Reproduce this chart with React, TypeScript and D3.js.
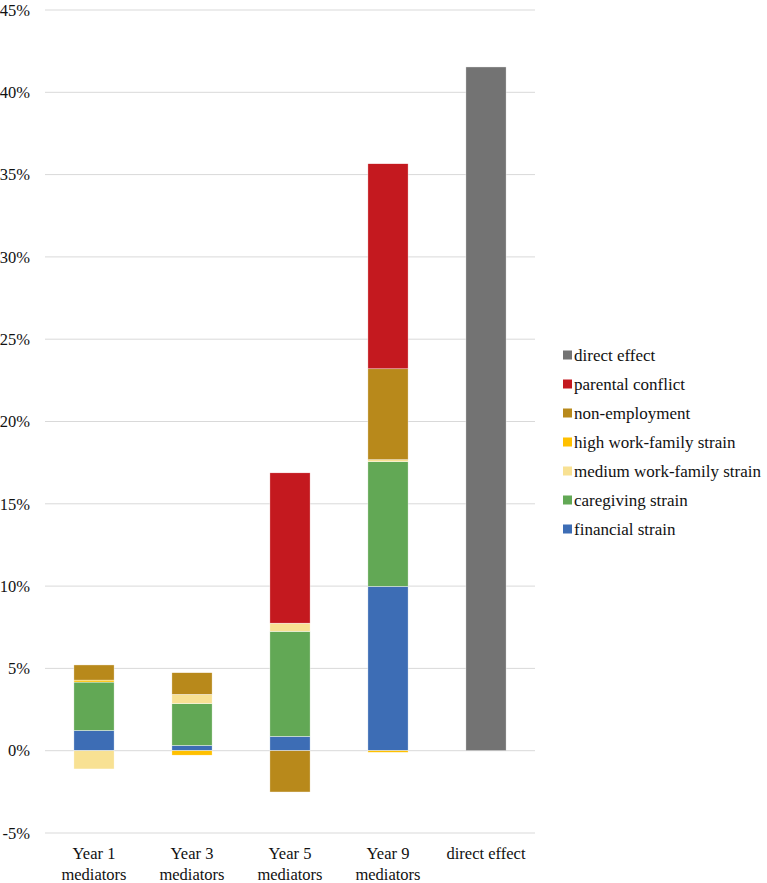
import React from "react";
import * as d3 from "d3";

const categories = ["Year 1 mediators", "Year 3 mediators", "Year 5 mediators", "Year 9 mediators", "direct effect"];
const seriesNames = ["financial strain", "caregiving strain", "medium work-family strain", "high work-family strain", "non-employment", "parental conflict", "direct effect"];
const seriesColors = ["#3D6DB5", "#62A855", "#F8E193", "#FFC000", "#B8891B", "#C4191F", "#737373"];
const financial = [1.23, 0.32, 0.87, 9.98, 0];
const caregiving = [2.94, 2.54, 6.38, 7.58, 0];
const mediumStrain = [-1.11, 0.56, 0.5, 0.12, 0];
const highStrain = [0.12, -0.27, 0, -0.1, 0];
const nonEmployment = [0.92, 1.32, -2.51, 5.52, 0];
const parentalConflict = [0, 0, 9.13, 12.46, 0];
const directEffect = [0, 0, 0, 0, 41.54];
const yTicks = [-5, 0, 5, 10, 15, 20, 25, 30, 35, 40, 45];

const seriesValues = [financial, caregiving, mediumStrain, highStrain, nonEmployment, parentalConflict, directEffect];

export default function App() {
  const W = 767, H = 883;
  const x = d3.scaleBand<string>().domain(categories).range([45, 535]).paddingInner(0.59).paddingOuter(0.295);
  const y = d3.scaleLinear().domain([-5, 45]).range([833, 10]);

  const rows = categories.map((c, i) => {
    const r: any = { cat: c };
    seriesNames.forEach((s, j) => (r[s] = seriesValues[j][i]));
    return r;
  });
  const stacked = d3.stack<any>().keys(seriesNames).order(d3.stackOrderNone).offset(d3.stackOffsetDiverging)(rows);

  const legendOrder = [...seriesNames].reverse();
  const txtA = { fontFamily: '"Liberation Serif", "Times New Roman", serif', fontSize: "16.5px", fill: "#111" } as React.CSSProperties;
  const txtB = { fontFamily: '"Liberation Serif", "Times New Roman", serif', fontSize: "17px", fill: "#111" } as React.CSSProperties;

  return (
    <svg width={W} height={H} style={{ position: "absolute", left: 0, top: 0, background: "#fff" }}>
      {yTicks.map((t) => (
        <g key={t}>
          <line x1={45} x2={535} y1={y(t)} y2={y(t)} stroke="#D9D9D9" strokeWidth={1} />
          <text x={30} y={y(t)} dy="0.35em" textAnchor="end" style={txtA}>{`${t}%`}</text>
        </g>
      ))}
      {stacked.map((layer, j) => (
        <g key={layer.key} fill={seriesColors[j]}>
          {layer.map((d, i) => {
            const v = seriesValues[j][i];
            if (!v) return null;
            const y0 = y(d[0]), y1 = y(d[1]);
            return (
              <rect key={i} x={x(categories[i])} width={x.bandwidth()} y={Math.min(y0, y1)} height={Math.abs(y1 - y0)} stroke="#fff" strokeWidth={0.4} />
            );
          })}
        </g>
      ))}
      {categories.map((c) => {
        const parts = c.includes(" mediators") ? [c.replace(" mediators", ""), "mediators"] : [c];
        const cx = (x(c) as number) + x.bandwidth() / 2;
        return (
          <text key={c} x={cx} y={859} textAnchor="middle" style={txtA}>
            {parts.map((p, k) => (
              <tspan key={k} x={cx} dy={k === 0 ? 0 : 21}>{p}</tspan>
            ))}
          </text>
        );
      })}
      {legendOrder.map((s, k) => {
        const j = seriesNames.indexOf(s);
        const cy = 355 + k * 29;
        return (
          <g key={s}>
            <rect x={563} y={cy - 4.5} width={9} height={9} fill={seriesColors[j]} />
            <text x={574} y={cy} dy="0.35em" style={txtB}>{s}</text>
          </g>
        );
      })}
    </svg>
  );
}
